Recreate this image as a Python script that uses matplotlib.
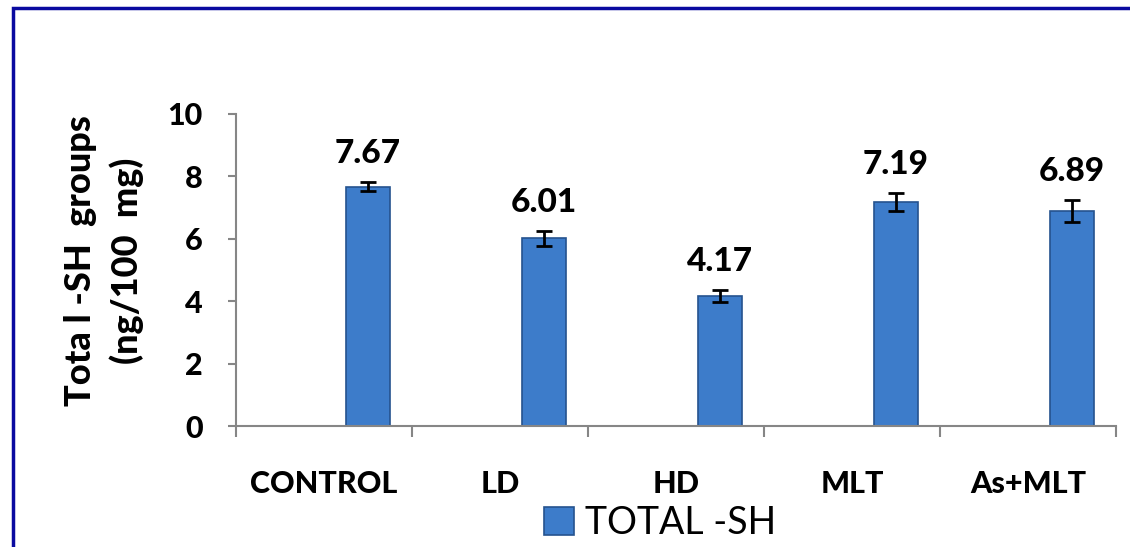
import matplotlib.pyplot as plt
from matplotlib.patches import Rectangle
import numpy as np

# Data
groups = ["CONTROL", "LD", "HD", "MLT", "As+MLT"]
total_sh = [7.67, 6.01, 4.17, 7.19, 6.89]
sem = [0.15, 0.24, 0.19, 0.29, 0.35]
series_name = "TOTAL -SH"

plt.rcParams["font.family"] = ["Lato", "DejaVu Sans"]

fig = plt.figure(figsize=(11.3, 5.47), dpi=100)
ax = fig.add_axes([0.2088, 0.2212, 0.7788, 0.5704])

x = np.arange(len(groups))
bars = ax.bar(x + 0.25, total_sh, width=0.25, color="#3D7CCA", edgecolor="#25538F",
              linewidth=1.2, label=series_name, zorder=2)
ax.errorbar(x + 0.25, total_sh, yerr=sem, fmt="none", ecolor="black",
            elinewidth=2, capsize=6, capthick=2, zorder=3)

# value labels above error bars
for xi, v, e in zip(x, total_sh, sem):
    ax.annotate(f"{v:.2f}", (xi + 0.25, v + e), xytext=(0, 10), textcoords="offset points",
                ha="center", va="bottom", fontsize=24, fontweight="black")

ax.set_xlim(-0.5, len(groups) - 0.5)
ax.set_ylim(0, 10)
ax.set_yticks([0, 2, 4, 6, 8, 10])
ax.set_xticks(x)
ax.set_xticklabels(groups, fontsize=22, fontweight="black")
ax.set_xticks(np.arange(len(groups) + 1) - 0.5, minor=True)
ax.tick_params(axis="x", which="major", length=0, pad=32)
ax.tick_params(axis="x", which="minor", length=8, width=1.5, color="#868686", direction="out")
ax.tick_params(axis="y", length=6, width=1.5, color="#868686", pad=18, labelsize=22)
for lbl in ax.get_yticklabels():
    lbl.set_fontweight("black")

for s in ["top", "right"]:
    ax.spines[s].set_visible(False)
for s in ["left", "bottom"]:
    ax.spines[s].set_color("#868686")
    ax.spines[s].set_linewidth(1.5)

fig.text(0.092, 0.523, "Tota l -SH  groups\n(ng/100  mg)", rotation=90, ha="center",
         va="center", fontsize=26, fontweight="black", linespacing=1.45, multialignment="center")

fig.legend(handles=[bars], labels=[series_name], loc="center", bbox_to_anchor=(0.584, 0.044),
           frameon=False, fontsize=27, handlelength=0.8, handleheight=0.8, handletextpad=0.3,
           borderpad=0)

# outer chart border (dark blue, runs off right and bottom)
fig.patches.append(Rectangle((13 / 1130, -0.1), 1.2, 1 - 8 / 547 + 0.1, transform=fig.transFigure,
                             fill=False, edgecolor="#0A0AA0", linewidth=2.5))

fig.savefig("out.png", dpi=100)
